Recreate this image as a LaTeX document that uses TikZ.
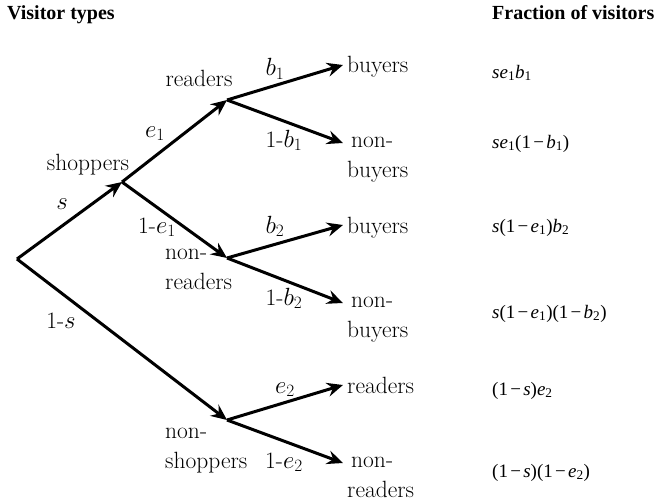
\documentclass[tikz,border=0pt]{standalone}
\usepackage{fontspec}
\newfontfamily\tms{Liberation Serif}
\usetikzlibrary{arrows.meta}
\newcommand\fsb[1]{\textsubscript{#1}}
\newcommand\fit[1]{\textit{#1}}
\newcommand\fmn{\hspace{0.12em}−\hspace{0.12em}}
\begin{document}
\begin{tikzpicture}[x=1pt,y=-1pt,
  arr/.style={line width=3pt, -{Stealth[length=16pt,width=14pt,inset=5.5pt]}},
  lbl/.style={inner sep=0pt, font=\fontsize{23.5}{29.5}\selectfont, anchor=base},
  lblw/.style={lbl, anchor=base west, align=left},
  frm/.style={inner sep=0pt, font=\tms\fontsize{19}{22}\selectfont, anchor=base west},
  hdr/.style={inner sep=0pt, font=\tms\bfseries\fontsize{20}{24}\selectfont, anchor=base west}]
\useasboundingbox (0,0) rectangle (662,503);
% junctions
\coordinate (root) at (17,259);
\coordinate (shop) at (122,182);
\coordinate (read) at (227,100);
\coordinate (nread) at (227,258);
\coordinate (nshop) at (227,420);
\coordinate (t1) at (343,65);
\coordinate (t2) at (343,143);
\coordinate (t3) at (343,225);
\coordinate (t4) at (343,303);
\coordinate (t5) at (343,385);
\coordinate (t6) at (343,463);
% arrows
\draw[arr] (root) -- (shop);
\draw[arr] (root) -- (nshop);
\draw[arr] (shop) -- (read);
\draw[arr] (shop) -- (nread);
\draw[arr] (read) -- (t1);
\draw[arr] (read) -- (t2);
\draw[arr] (nread) -- (t3);
\draw[arr] (nread) -- (t4);
\draw[arr] (nshop) -- (t5);
\draw[arr] (nshop) -- (t6);
% headers
\node[hdr] (h1) at (7,20) {Visitor types};
\node[hdr] (h2) at (492,20) {Fraction of visitors};
% tree labels
\node[lbl] (lread) at (199,87) {readers};
\node[lbl] (lshop) at (88,170) {shoppers};
\node[lbl] (ls) at (62,209) {$s$};
\node[lbl] (le1) at (155,137) {$e_1$};
\node[lbl] (lb1) at (275,76) {$b_1$};
\node[lbl] (lnb1) at (284,147) {1-$b_1$};
\node[lbl] (lne1) at (157,233) {1-$e_1$};
\node[lbl] (lb2) at (275,233) {$b_2$};
\node[lblw] (lnread) at (165,289) {non-\\readers};
\node[lbl] (lnb2) at (284,305) {1-$b_2$};
\node[lbl] (lns) at (61,328) {1-$s$};
\node[lbl] (le2) at (285,393) {$e_2$};
\node[lblw] (lnshop) at (165,468) {non-\\shoppers};
\node[lbl] (lne2) at (284,468) {1-$e_2$};
% outcomes
\node[lblw] (o1) at (347,73) {buyers};
\node[lblw] (o2) at (347,177) {\hspace{4pt}non-\\buyers};
\node[lblw] (o3) at (347,233) {buyers};
\node[lblw] (o4) at (347,337) {\hspace{4pt}non-\\buyers};
\node[lblw] (o5) at (347,393) {readers};
\node[lblw] (o6) at (347,497) {\hspace{4pt}non-\\readers};
% fractions
\node[frm] (f1) at (492,78) {\fit{se}\fsb{1}\fit{b}\fsb{1}};
\node[frm] (f2) at (492,148) {\fit{se}\fsb{1}(1\fmn\fit{b}\fsb{1})};
\node[frm] (f3) at (492,232) {\fit{s}(1\fmn\fit{e}\fsb{1})\fit{b}\fsb{2}};
\node[frm] (f4) at (492,318) {\fit{s}(1\fmn\fit{e}\fsb{1})(1\fmn\fit{b}\fsb{2})};
\node[frm] (f5) at (492,395) {(1\fmn\fit{s})\fit{e}\fsb{2}};
\node[frm] (f6) at (492,477) {(1\fmn\fit{s})(1\fmn\fit{e}\fsb{2})};
\end{tikzpicture}
\end{document}
